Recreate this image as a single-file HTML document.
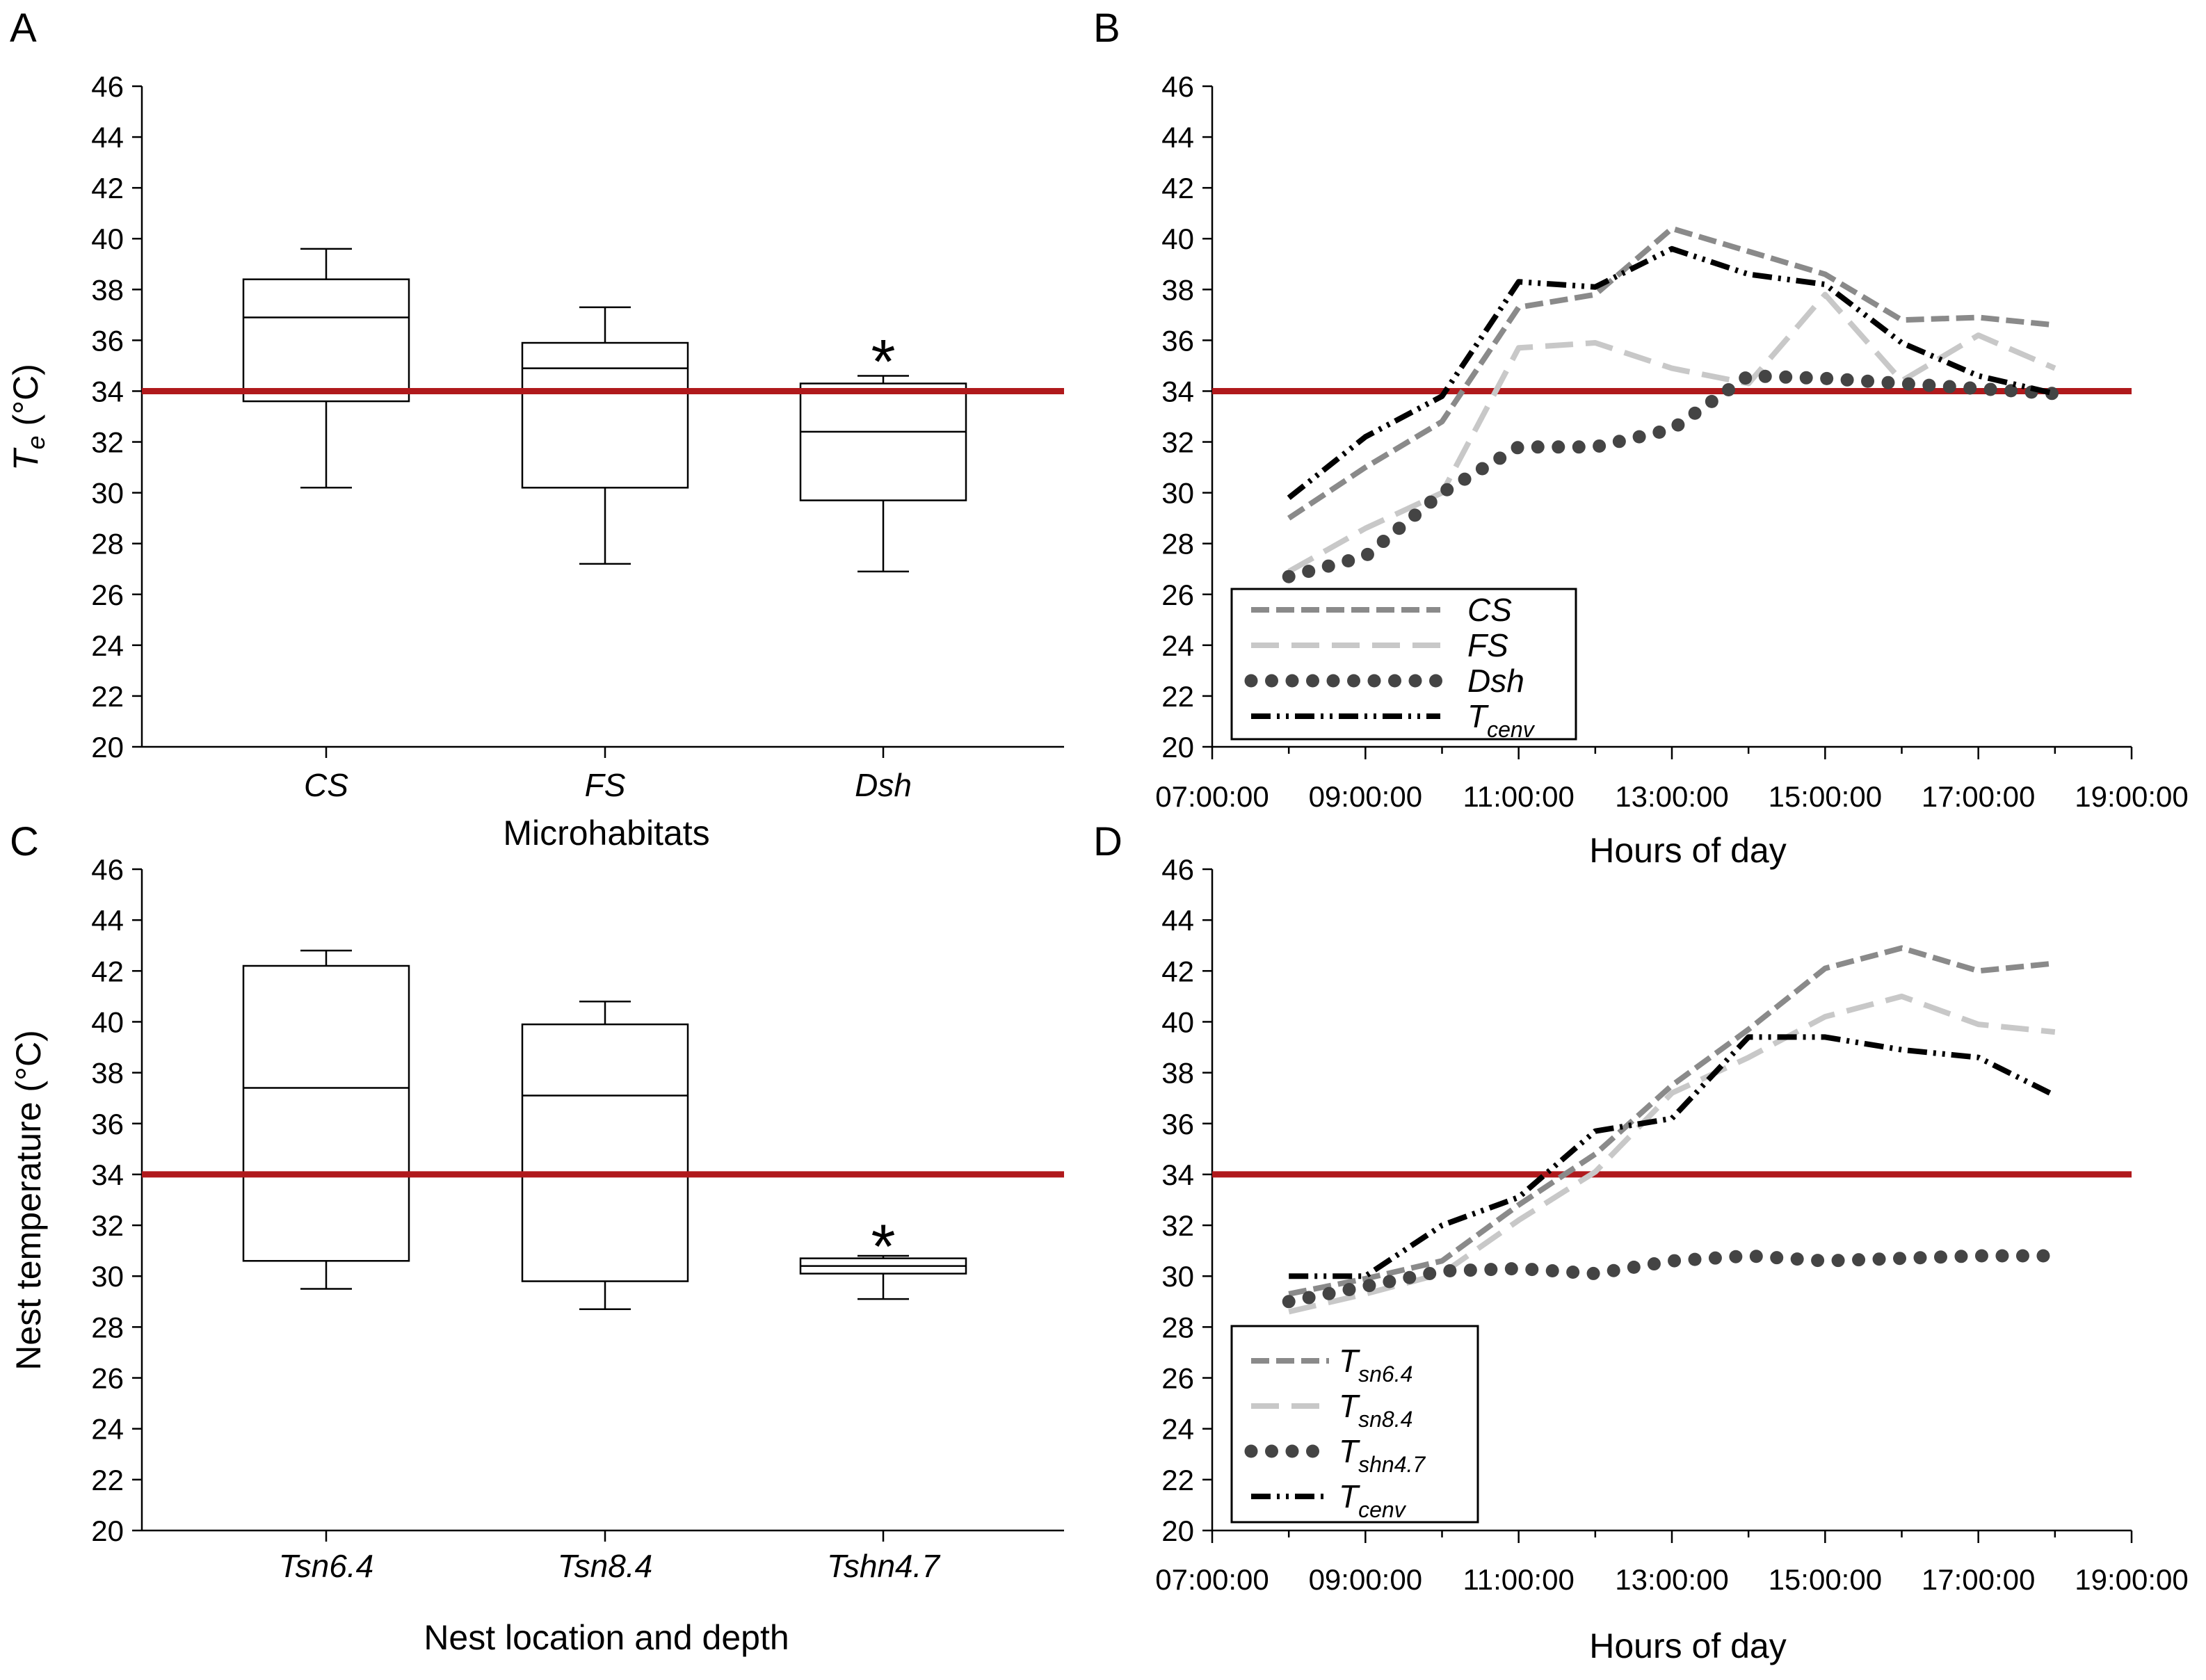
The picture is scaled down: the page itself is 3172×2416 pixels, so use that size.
<!DOCTYPE html>
<html><head><meta charset="utf-8"><style>
html,body{margin:0;padding:0;background:#fff;}
svg{display:block;font-family:"Liberation Sans Narrow","Liberation Sans",sans-serif;}
</style></head><body>
<svg id="fig" width="3172" height="2416" viewBox="0 0 3172 2416" xmlns="http://www.w3.org/2000/svg">
<rect width="3172" height="2416" fill="#fff"/>
<g font-size="58" fill="#000">
<text x="14" y="60">A</text>
<text x="1572" y="60">B</text>
<text x="14" y="1230">C</text>
<text x="1572" y="1230">D</text>
</g>
<text x="872" y="1215" font-size="50" text-anchor="middle">Microhabitats</text>
<text x="2427" y="1240" font-size="50" text-anchor="middle">Hours of day</text>
<text x="872" y="2372" font-size="50" text-anchor="middle">Nest location and depth</text>
<text x="2427" y="2384" font-size="50" text-anchor="middle">Hours of day</text>
<text transform="translate(54,600) rotate(-90)" font-size="50" text-anchor="middle"><tspan font-style="italic">T</tspan><tspan font-style="italic" font-size="36" dy="10">e</tspan><tspan dy="-10"> (°C)</tspan></text>
<text transform="translate(58,1726) rotate(-90)" font-size="50" text-anchor="middle">Nest temperature (°C)</text>
</svg>
<script>
const yTicks = [20,22,24,26,28,30,32,34,36,38,40,42,44,46];
const hourTicks = ["07:00:00","09:00:00","11:00:00","13:00:00","15:00:00","17:00:00","19:00:00"];
const hours = [8,9,10,11,12,13,14,15,16,17,18];
const catsA = ["CS","FS","Dsh"];
const boxA_min = [30.2,27.2,26.9];
const boxA_q1 = [33.6,30.2,29.7];
const boxA_med = [36.9,34.9,32.4];
const boxA_q3 = [38.4,35.9,34.3];
const boxA_max = [39.6,37.3,34.6];
const catsC = ["Tsn6.4","Tsn8.4","Tshn4.7"];
const boxC_min = [29.5,28.7,29.1];
const boxC_q1 = [30.6,29.8,30.1];
const boxC_med = [37.4,37.1,30.4];
const boxC_q3 = [42.2,39.9,30.7];
const boxC_max = [42.8,40.8,30.8];
const bCS = [29.0,31.0,32.8,37.3,37.8,40.4,39.5,38.6,36.8,36.9,36.6];
const bFS = [26.9,28.6,30.0,35.7,35.9,34.9,34.3,37.8,34.4,36.2,34.9];
const bDsh = [26.7,27.5,30.0,31.8,31.8,32.5,34.6,34.5,34.3,34.1,33.9];
const bTcenv = [29.8,32.2,33.8,38.3,38.1,39.6,38.6,38.2,35.9,34.6,33.9];
const dT64 = [29.3,29.9,30.6,32.8,34.8,37.5,39.7,42.1,42.9,42.0,42.3];
const dT84 = [28.6,29.3,30.1,32.2,34.1,37.2,38.6,40.2,41.0,39.9,39.6];
const dT47 = [29.0,29.6,30.2,30.3,30.1,30.6,30.8,30.6,30.7,30.8,30.8];
const dTcenv = [30.0,30.0,32.0,33.1,35.7,36.2,39.4,39.4,38.9,38.6,37.1];
const threshold = [34];

const NS="http://www.w3.org/2000/svg";
const svg=document.getElementById('fig');
function mk(tag,attrs,parent){const e=document.createElementNS(NS,tag);for(const k in attrs)e.setAttribute(k,attrs[k]);(parent||svg).appendChild(e);return e;}
function yScale(top,bot){return v=>bot-(v-20)/26*(bot-top);}

const styles={
 CS:{stroke:"#8a8a8a",w:8,dash:"26 10",cap:"butt"},
 FS:{stroke:"#c8c8c8",w:8,dash:"40 18",cap:"butt"},
 Dsh:{stroke:"#444",w:19,dash:"0 29.5",cap:"round"},
 Tc:{stroke:"#000",w:8,dash:"28 9 4 9 4 9",cap:"butt"}
};

function yAxis(x,top,bot,ys,name){
  const g=mk('g',{});
  
  
  mk('line',{x1:x,y1:top,x2:x,y2:bot,stroke:"#000","stroke-width":2.5},g);
  yTicks.forEach(t=>{
    const y=ys(t);
    mk('line',{x1:x-14,y1:y,x2:x,y2:y,stroke:"#000","stroke-width":2.5},g);
    const tx=mk('text',{x:x-26,y:y+15,"font-size":42,"text-anchor":"end"},g);
    tx.textContent=t;
  });
}
function redLine(x1,x2,ys,name){
  const l=mk('line',{x1:x1,x2:x2,y1:ys(threshold[0]),y2:ys(threshold[0]),stroke:"#b0191c","stroke-width":9});
  
  
}

function boxPanel(top,bot,cats,mn,q1,md,q3,mx,labY,pname,star){
  const ys=yScale(top,bot);
  const x0=204,x1=1530;
  const cx=[469,870,1270];
  yAxis(x0,top,bot,ys,pname+'-y-axis');
  const xa=mk('line',{x1:x0,y1:bot,x2:x1,y2:bot,stroke:"#000","stroke-width":2.5});
  
  
  cats.forEach((c,i)=>{
    const g=mk('g',{});
    
    
    const x=cx[i],hw=119,cw=37;
    mk('line',{x1:x,y1:bot,x2:x,y2:bot+16,stroke:"#000","stroke-width":2.5},g);
    mk('line',{x1:x,y1:ys(mx[i]),x2:x,y2:ys(q3[i]),stroke:"#000","stroke-width":2.5},g);
    mk('line',{x1:x,y1:ys(mn[i]),x2:x,y2:ys(q1[i]),stroke:"#000","stroke-width":2.5},g);
    mk('line',{x1:x-cw,y1:ys(mx[i]),x2:x+cw,y2:ys(mx[i]),stroke:"#000","stroke-width":2.5},g);
    mk('line',{x1:x-cw,y1:ys(mn[i]),x2:x+cw,y2:ys(mn[i]),stroke:"#000","stroke-width":2.5},g);
    mk('rect',{x:x-hw,y:ys(q3[i]),width:2*hw,height:ys(q1[i])-ys(q3[i]),fill:"#fff",stroke:"#000","stroke-width":2.5},g);
    mk('line',{x1:x-hw,y1:ys(md[i]),x2:x+hw,y2:ys(md[i]),stroke:"#000","stroke-width":2.5},g);
    const t=mk('text',{x:x,y:labY,"font-size":46,"font-style":"italic","text-anchor":"middle"});
    t.textContent=c;
    
    
  });
  redLine(x0,x1,ys,pname+'-threshold-line');
  const st=mk('text',{x:cx[2],y:ys(star)+58,"font-size":90,"text-anchor":"middle"});
  st.textContent="*";
  
  
}
boxPanel(124,1074,catsA,boxA_min,boxA_q1,boxA_med,boxA_q3,boxA_max,1145,'panel-a',35.9);
boxPanel(1250,2201,catsC,boxC_min,boxC_q1,boxC_med,boxC_q3,boxC_max,2268,'panel-c',31.9);

function linePanel(top,bot,series,labY,pname,legend){
  const ys=yScale(top,bot);
  const x0=1743,x1=3065;
  const xs=h=>x0+(h-7)/12*(x1-x0);
  yAxis(x0,top,bot,ys,pname+'-y-axis');
  const xa=mk('line',{x1:x0,y1:bot,x2:x1,y2:bot,stroke:"#000","stroke-width":2.5});
  
  
  for(let h=7;h<=19;h++){
    const major=(h%2===1);
    mk('line',{x1:xs(h),y1:bot,x2:xs(h),y2:bot+(major?18:10),stroke:"#000","stroke-width":2.5});
  }
  hourTicks.forEach((lab,i)=>{
    const t=mk('text',{x:xs(7+2*i),y:labY,"font-size":42,"text-anchor":"middle"});
    t.textContent=lab;
    
    
  });
  redLine(x0,x1,ys,pname+'-threshold-line');
  series.forEach(s=>{
    const st=styles[s.style];
    const d=s.vals.map((v,i)=>(i?'L':'M')+xs(hours[i]).toFixed(1)+','+ys(v).toFixed(1)).join(' ');
    const p=mk('path',{d:d,fill:"none",stroke:st.stroke,"stroke-width":st.w,"stroke-dasharray":st.dash,"stroke-linecap":st.cap,"stroke-linejoin":"round"});
    
    
  });
  const L=legend;
  const g=mk('g',{});
  
  
  mk('rect',{x:L.x,y:L.y,width:L.w,height:L.h,fill:"#fff",stroke:"#000","stroke-width":3},g);
  series.forEach((s,i)=>{
    const st=styles[s.style];
    const y=L.y+L.rowY0+i*L.row;
    const e=mk('g',{},g);
    
    
    mk('line',{x1:L.x+28,x2:L.x+L.lineW,y1:y,y2:y,stroke:st.stroke,"stroke-width":st.w,"stroke-dasharray":st.dash,"stroke-linecap":st.cap},e);
    const t=mk('text',{x:L.tx,y:y+16,"font-size":46,"font-style":"italic"},e);
    if(s.sub){
      const a=document.createElementNS(NS,'tspan');a.textContent=s.label;t.appendChild(a);
      const b=document.createElementNS(NS,'tspan');b.setAttribute('font-size','32');b.setAttribute('dy','14');b.textContent=s.sub;t.appendChild(b);
    } else t.textContent=s.label;
  });
}
linePanel(124,1074,[
 {key:'cs',label:'CS',style:'CS',vals:bCS},
 {key:'fs',label:'FS',style:'FS',vals:bFS},
 {key:'dsh',label:'Dsh',style:'Dsh',vals:bDsh},
 {key:'tcenv',label:'T',sub:'cenv',style:'Tc',vals:bTcenv}
],1160,'panel-b',{x:1771,y:847,w:495,h:216,rowY0:30,row:51,lineW:300,tx:2110});
linePanel(1250,2201,[
 {key:'tsn6-4',label:'T',sub:'sn6.4',style:'CS',vals:dT64},
 {key:'tsn8-4',label:'T',sub:'sn8.4',style:'FS',vals:dT84},
 {key:'tshn4-7',label:'T',sub:'shn4.7',style:'Dsh',vals:dT47},
 {key:'tcenv',label:'T',sub:'cenv',style:'Tc',vals:dTcenv}
],2286,'panel-d',{x:1771,y:1907,w:354,h:282,rowY0:50,row:65,lineW:140,tx:1925});
</script>
</body></html>
